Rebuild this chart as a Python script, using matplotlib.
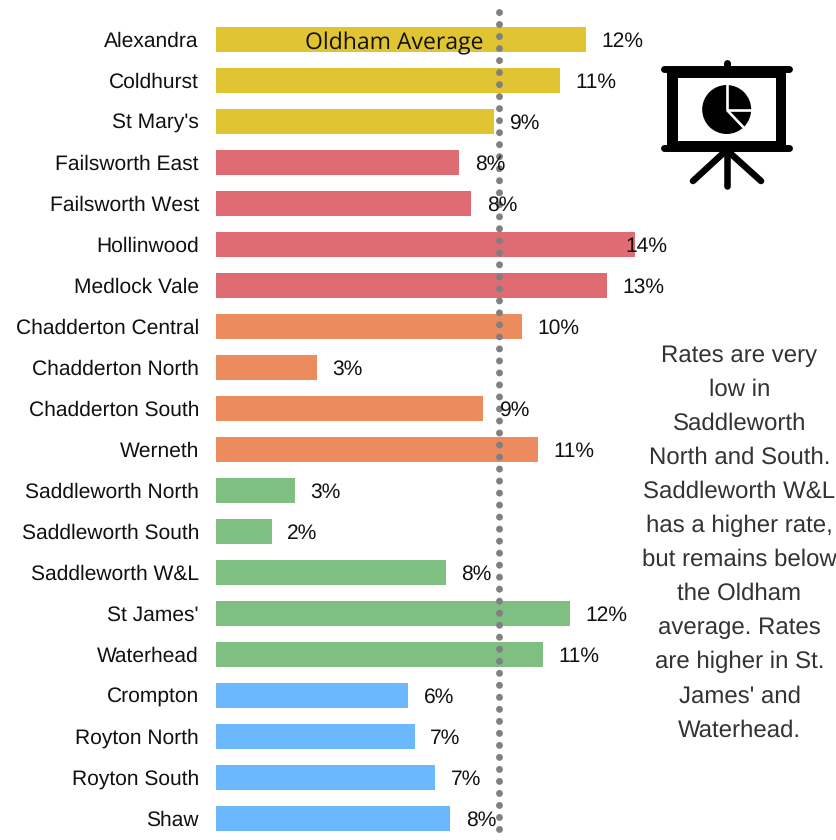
import matplotlib
matplotlib.use("Agg")
import matplotlib.pyplot as plt
from matplotlib.patches import Circle, Rectangle
from matplotlib.transforms import ScaledTranslation

plt.rcParams["font.family"] = ["Liberation Sans", "DejaVu Sans"]
plt.rcParams["text.hinting"] = "no_hinting"
plt.rcParams["text.hinting_factor"] = 1

wards = ["Alexandra", "Coldhurst", "St Mary's", "Failsworth East", "Failsworth West",
         "Hollinwood", "Medlock Vale", "Chadderton Central", "Chadderton North",
         "Chadderton South", "Werneth", "Saddleworth North", "Saddleworth South",
         "Saddleworth W&L", "St James'", "Waterhead", "Crompton", "Royton North",
         "Royton South", "Shaw"]
values = [12.33, 11.45, 9.25, 8.1, 8.5, 13.95, 13.03, 10.2, 3.35, 8.9, 10.73,
          2.62, 1.85, 7.65, 11.8, 10.9, 6.4, 6.62, 7.3, 7.8]
labels = ["12%", "11%", "9%", "8%", "8%", "14%", "13%", "10%", "3%", "9%", "11%",
          "3%", "2%", "8%", "12%", "11%", "6%", "7%", "7%", "8%"]
yellow, red, orange, green, blue = "#E0C431", "#DF6B73", "#EC8C5E", "#7FBF82", "#6CB8FF"
colors = [yellow]*3 + [red]*4 + [orange]*4 + [green]*5 + [blue]*4
average = 9.42
avg_label = "Oldham Average"
note = ("Rates are very\nlow in\nSaddleworth\nNorth and South.\nSaddleworth W&L\n"
        "has a higher rate,\nbut remains below\nthe Oldham\naverage. Rates\n"
        "are higher in St.\nJames' and\nWaterhead.")

W, H = 837, 840
fig = plt.figure(figsize=(W/100, H/100), dpi=100, facecolor="white")

left, right = 216.3, 836.3
px_per_unit = 30.0
row, first = 40.97, 39.9
ax = fig.add_axes([left/W, 0, (right-left)/W, 1])
ax.set_xlim(0, (right-left)/px_per_unit)
ax.set_ylim((H-first)/row, -first/row)
for s in ax.spines.values():
    s.set_visible(False)
ax.patch.set_alpha(0)
ax.barh(range(len(wards)), values, height=25/row, color=colors, zorder=2)
ax.set_yticks(range(len(wards)), wards)
ax.set_xticks([])
ax.tick_params(axis="y", length=0, pad=12.5, labelsize=15.25, labelcolor="#111111")
up = ScaledTranslation(0, 0.5/100, fig.dpi_scale_trans)
for tl in ax.get_yticklabels():
    tl.set_transform(tl.get_transform() + up)
for i, (v, t) in enumerate(zip(values, labels)):
    # labels sit 15 px past the bar, but are kept from running past x=625 px
    gap = min(15.5, 625 - (left + v*px_per_unit))
    ax.annotate(t, (v, i), xytext=(gap*0.72, -1.44), textcoords="offset points", va="center",
                ha="left", fontsize=15, color="#111111", zorder=4)
# drawn top to bottom so the dots fall every 12 px from y=12
ax.axvline(average, ymin=1-12/H, ymax=0, color="#808080", lw=5,
           linestyle=(0, (0.01, 1.72)), dash_capstyle="round", zorder=3)

ov = fig.add_axes([0, 0, 1, 1])
ov.set_xlim(0, W); ov.set_ylim(H, 0); ov.axis("off"); ov.patch.set_alpha(0)
ov.text(394.5, 43.5, avg_label, ha="center", va="center", fontsize=16.4,
        family=["Open Sans", "DejaVu Sans"], color="#111111", zorder=6)
ov.text(739.5, 543, note, ha="center", va="center", fontsize=17, color="#333333",
        linespacing=1.67)

k = "black"
ov.add_patch(Rectangle((667, 70), 119, 77, fc=k, ec="none"))
ov.add_patch(Rectangle((678, 78.3), 98, 62.5, fc="white", ec="none"))
for yy in (69.3, 147.5):
    ov.plot([664.5, 789.5], [yy, yy], color=k, lw=5.0, solid_capstyle="round")
ov.plot([726.7, 726.7], [62.7, 69], color=k, lw=5.0, solid_capstyle="round")
ov.plot([726.7, 726.7], [147, 185.5], color=k, lw=4.7, solid_capstyle="round")
ov.plot([726.7, 693], [150, 181], color=k, lw=4.7, solid_capstyle="round")
ov.plot([726.7, 761], [150, 181], color=k, lw=4.7, solid_capstyle="round")
ov.add_patch(Circle((726.7, 109.5), 24.5, fc=k, ec="none"))
for xs, ys, xe, ye in [(727, 110, 727, 83), (727, 110, 753, 110), (727, 110, 746, 130)]:
    ov.plot([xs, xe], [ys, ye], color="white", lw=1.9, solid_capstyle="butt")

fig.savefig("out.png", dpi=100, facecolor="white")
